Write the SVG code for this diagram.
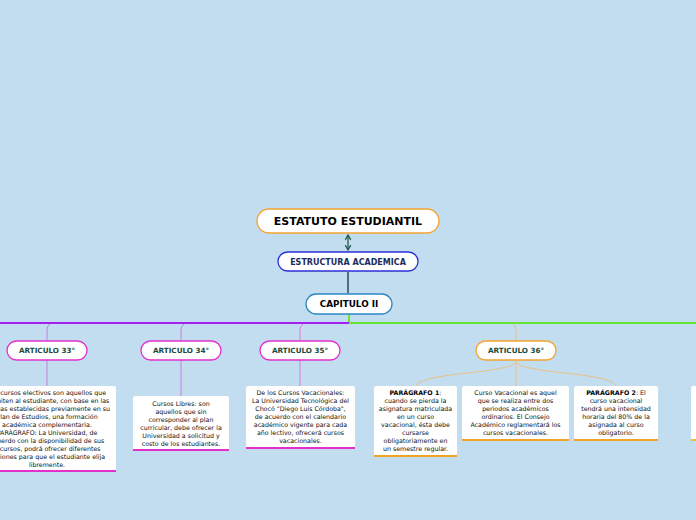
<svg xmlns="http://www.w3.org/2000/svg" width="696" height="520" viewBox="0 0 696 520">
<defs>
<marker id="ah" viewBox="0 0 10 10" refX="8" refY="5" markerWidth="7" markerHeight="7" markerUnits="userSpaceOnUse" orient="auto-start-reverse"><path d="M1 1 L8 5 L1 9" fill="none" stroke="#1d5a4a" stroke-width="1.8"/></marker>
</defs>
<style>
text{font-family:"DejaVu Sans","Verdana",sans-serif;text-anchor:middle}
.top{font-size:11px;font-weight:bold;fill:#000}
.sub{font-size:8px;font-weight:bold}
.art{font-size:7.2px;font-weight:bold;fill:#1c4a3c}
.body{font-size:6.3px;fill:#111}
.box{fill:#fff}
.anode{fill:#fff;stroke:#e32fcb;stroke-width:1.3}
</style>
<rect width="696" height="520" fill="#c3ddf0"/>
<g id="connectors" fill="none">
<line x1="348" y1="235" x2="348" y2="250" stroke="#1d5a4a" stroke-width="1.3" marker-start="url(#ah)" marker-end="url(#ah)"/>
<line x1="348" y1="272" x2="348" y2="293" stroke="#3d4f60" stroke-width="1.6"/>
<path d="M349 315 L349 323 L696 323" stroke="#66e634" stroke-width="2"/>
<path d="M349 323 L0 323" stroke="#a41ff0" stroke-width="2"/>
<path d="M50 324 Q47 326 47 330 L47 341" stroke="#c47ee8" stroke-width="1"/>
<path d="M184 324 Q181 326 181 330 L181 341" stroke="#c47ee8" stroke-width="1"/>
<path d="M303 324 Q300 326 300 330 L300 341" stroke="#e27adc" stroke-width="1"/>
<path d="M513 324 Q516 326 516 330 L516 341" stroke="#eac084" stroke-width="1"/>
<line x1="47" y1="360" x2="47" y2="386" stroke="#c47ee8" stroke-width="1"/>
<line x1="181" y1="360" x2="181" y2="396" stroke="#c47ee8" stroke-width="1"/>
<line x1="300" y1="360" x2="300" y2="386" stroke="#e27adc" stroke-width="1"/>
<path d="M516 360 L516 386" stroke="#eac084" stroke-width="1"/>
<path d="M516 362 C510 374 420 372 416 386" stroke="#eac084" stroke-width="1"/>
<path d="M516 362 C522 374 612 372 616 386" stroke="#eac084" stroke-width="1"/>
</g>
<g id="n-estatuto">
<rect x="257" y="209" width="182" height="24" rx="12" fill="#fff" stroke="#f4a431" stroke-width="1.3"/>
<text class="top" x="348" y="225">ESTATUTO ESTUDIANTIL</text>
</g>
<g id="n-estructura">
<rect x="278" y="252" width="140" height="19" rx="9.5" fill="#fff" stroke="#2c2fd6" stroke-width="1.3"/>
<text class="sub" x="348" y="264.8" fill="#1b2b5c">ESTRUCTURA ACADEMICA</text>
</g>
<g id="n-capitulo">
<rect x="306" y="294" width="86" height="20" rx="10" fill="#fff" stroke="#2e86c1" stroke-width="1.3"/>
<text class="sub" x="349" y="307.2" fill="#000" style="font-size:8.8px">CAPITULO II</text>
</g>
<g id="n-art33">
<rect class="anode" x="7" y="341" width="80" height="19" rx="9.5"/>
<text class="art" x="47" y="353.2">ARTICULO 33°</text>
</g>
<g id="n-art34">
<rect class="anode" x="141" y="341" width="80" height="19" rx="9.5"/>
<text class="art" x="181" y="353.2">ARTICULO 34°</text>
</g>
<g id="n-art35">
<rect class="anode" x="260" y="341" width="80" height="19" rx="9.5"/>
<text class="art" x="300" y="353.2">ARTICULO 35°</text>
</g>
<g id="n-art36">
<rect x="476" y="341" width="80" height="19" rx="9.5" fill="#fff" stroke="#f4a431" stroke-width="1.3"/>
<text class="art" x="516" y="353.2">ARTICULO 36°</text>
</g>
<g id="n-t33">
<rect class="box" x="-22" y="386" width="138" height="85" rx="2"/>
<rect x="-22" y="470" width="138" height="2" fill="#e32fcb"/>
<text class="body" x="47" y="394.5">Los cursos electivos son aquellos que</text>
<text class="body" x="47" y="402.5">permiten al estudiante, con base en las</text>
<text class="body" x="47" y="410.5">normas establecidas previamente en su</text>
<text class="body" x="47" y="418.5">Plan de Estudios, una formación</text>
<text class="body" x="47" y="426.5">académica complementaria.</text>
<text class="body" x="47" y="434.5">PARÁGRAFO: La Universidad, de</text>
<text class="body" x="47" y="442.5">acuerdo con la disponibilidad de sus</text>
<text class="body" x="47" y="450.5">recursos, podrá ofrecer diferentes</text>
<text class="body" x="47" y="458.5">opciones para que el estudiante elija</text>
<text class="body" x="47" y="466.5">libremente.</text>
</g>
<g id="n-t34">
<rect class="box" x="133" y="396" width="96" height="54" rx="2"/>
<rect x="133" y="449" width="96" height="2" fill="#e32fcb"/>
<text class="body" x="181" y="405.5">Cursos Libres: son</text>
<text class="body" x="181" y="413.5">aquellos que sin</text>
<text class="body" x="181" y="421.5">corresponder al plan</text>
<text class="body" x="181" y="429.5">curricular, debe ofrecer la</text>
<text class="body" x="181" y="437.5">Universidad a solicitud y</text>
<text class="body" x="181" y="445.5">costo de los estudiantes.</text>
</g>
<g id="n-t35">
<rect class="box" x="246" y="386" width="109" height="62" rx="2"/>
<rect x="246" y="447" width="109" height="2" fill="#e32fcb"/>
<text class="body" x="300.5" y="395">De los Cursos Vacacionales:</text>
<text class="body" x="300.5" y="403">La Universidad Tecnológica del</text>
<text class="body" x="300.5" y="411">Chocó "Diego Luis Córdoba",</text>
<text class="body" x="300.5" y="419">de acuerdo con el calendario</text>
<text class="body" x="300.5" y="427">académico vigente para cada</text>
<text class="body" x="300.5" y="435">año lectivo, ofrecerá cursos</text>
<text class="body" x="300.5" y="443">vacacionales.</text>
</g>
<g id="n-p1">
<rect class="box" x="374" y="386" width="83" height="70" rx="2"/>
<rect x="374" y="455" width="83" height="2" fill="#f0a324"/>
<text class="body" x="415.5" y="395"><tspan font-weight="bold" fill="#000">PARÁGRAFO 1</tspan>:</text>
<text class="body" x="415.5" y="403">cuando se pierda la</text>
<text class="body" x="415.5" y="411">asignatura matriculada</text>
<text class="body" x="415.5" y="419">en un curso</text>
<text class="body" x="415.5" y="427">vacacional, ésta debe</text>
<text class="body" x="415.5" y="435">cursarse</text>
<text class="body" x="415.5" y="443">obligatoriamente en</text>
<text class="body" x="415.5" y="451">un semestre regular.</text>
</g>
<g id="n-cv">
<rect class="box" x="462" y="386" width="107" height="54" rx="2"/>
<rect x="462" y="439" width="107" height="2" fill="#f0a324"/>
<text class="body" x="515.5" y="395">Curso Vacacional es aquel</text>
<text class="body" x="515.5" y="403">que se realiza entre dos</text>
<text class="body" x="515.5" y="411">periodos académicos</text>
<text class="body" x="515.5" y="419">ordinarios. El Consejo</text>
<text class="body" x="515.5" y="427">Académico reglamentará los</text>
<text class="body" x="515.5" y="435">cursos vacacionales.</text>
</g>
<g id="n-p2">
<rect class="box" x="574" y="386" width="84" height="54" rx="2"/>
<rect x="574" y="439" width="84" height="2" fill="#f0a324"/>
<text class="body" x="616" y="395"><tspan font-weight="bold" fill="#000">PARÁGRAFO 2</tspan>: El</text>
<text class="body" x="616" y="403">curso vacacional</text>
<text class="body" x="616" y="411">tendrá una intensidad</text>
<text class="body" x="616" y="419">horaria del 80% de la</text>
<text class="body" x="616" y="427">asignada al curso</text>
<text class="body" x="616" y="435">obligatorio.</text>
</g>
<g id="n-edge">
<rect class="box" x="691" y="386" width="20" height="54" rx="2"/>
<rect x="691" y="439" width="20" height="2" fill="#f0c030"/>
</g>
</svg>
